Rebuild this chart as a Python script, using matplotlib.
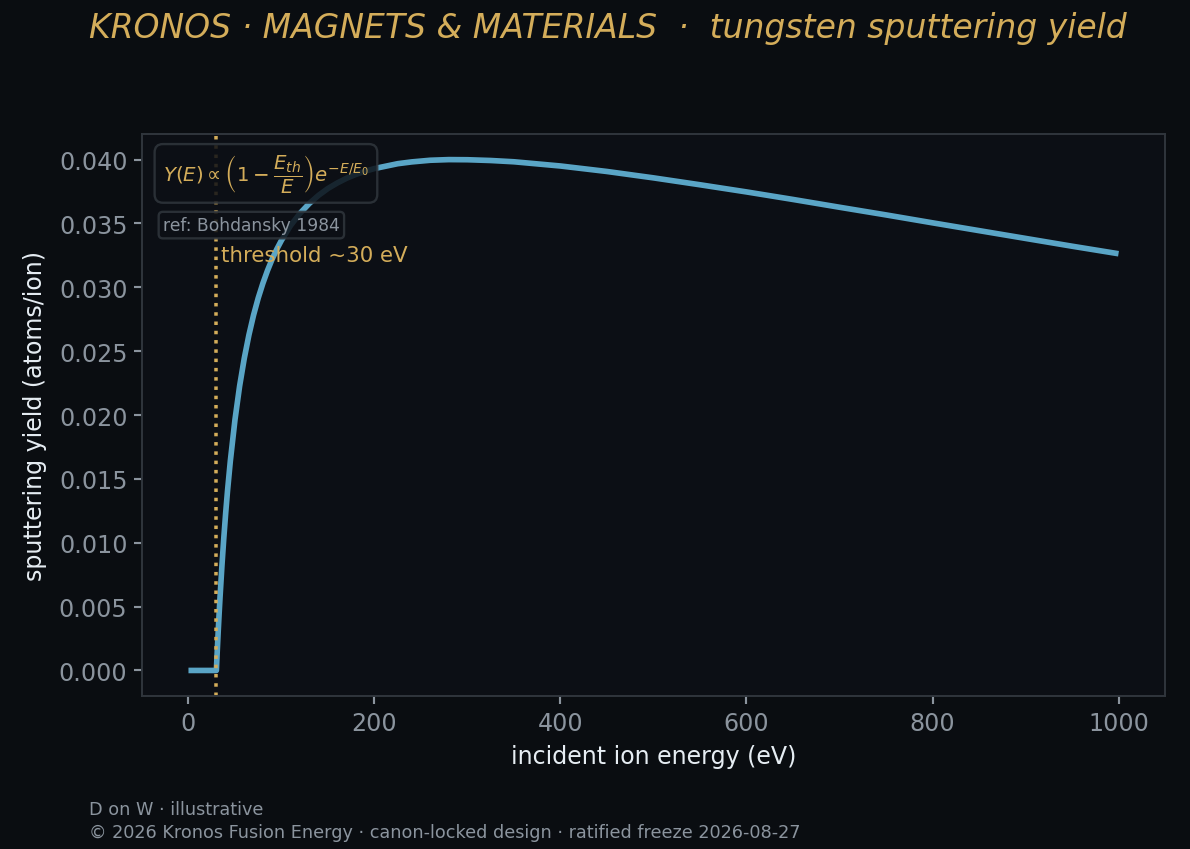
import matplotlib
matplotlib.use("Agg")
import matplotlib.pyplot as plt

# incident energy (eV) and sputtering yield (atoms/ion)
energy = [0, 10, 20, 25, 30, 31, 32, 33, 34, 36, 38, 40, 42, 45, 50, 55, 60,
          65, 70, 75, 80, 85, 90, 95, 100, 110, 120, 130, 140, 150, 160, 170,
          180, 190, 200, 225, 240, 260, 280, 300, 325, 350, 400, 450, 500,
          550, 600, 650, 700, 750, 800, 850, 900, 950, 1000]
yield_w = [0.0, 0.0, 0.0, 0.0, 0.0, 0.00160, 0.00309, 0.00449, 0.00581,
           0.00823, 0.01038, 0.01232, 0.01407, 0.01639, 0.01963, 0.02227,
           0.02444, 0.02627, 0.02783, 0.02916, 0.03031, 0.03132, 0.03221,
           0.03299, 0.03368, 0.03486, 0.03580, 0.03657, 0.03721, 0.03774,
           0.03817, 0.03854, 0.03884, 0.03909, 0.03930, 0.03968, 0.03982,
           0.03995, 0.04000, 0.03999, 0.03993, 0.03983, 0.03950, 0.03907,
           0.03857, 0.03803, 0.03747, 0.03688, 0.03627, 0.03567, 0.03505,
           0.03444, 0.03383, 0.03322, 0.03263]
threshold = 30

BG = "#0a0d11"
AX_BG = "#0c0f15"
GOLD = "#d4ad5a"
BLUE = "#5aa5c6"
GRID_C = "#30363d"
MUTED = "#8b949e"
LIGHT = "#e6edf3"

fig = plt.figure(figsize=(8.5, 6.0714), dpi=140, facecolor=BG)
ax = fig.add_axes([0.1193, 0.1800, 0.8597, 0.6611])
ax.set_facecolor(AX_BG)

ax.plot(energy, yield_w, color=BLUE, lw=2.9, solid_capstyle="butt")
ax.axvline(threshold, color=GOLD, ls=":", lw=1.8)
ax.text(threshold + 5, 0.0325, "threshold ~30 eV", color=GOLD, fontsize=11,
        va="center", ha="left")

ax.text(0.0205, 0.93, r"$Y(E) \propto \left(1-\dfrac{E_{th}}{E}\right)e^{-E/E_0}$",
        transform=ax.transAxes, color=GOLD, fontsize=10.2, va="center", ha="left",
        bbox=dict(boxstyle="round,pad=0.42", facecolor=AX_BG, alpha=0.85,
                  edgecolor=GRID_C, lw=1.2))
ax.text(0.0205, 0.838, "ref: Bohdansky 1984", transform=ax.transAxes,
        color=MUTED, fontsize=8.8, va="center", ha="left",
        bbox=dict(boxstyle="round,pad=0.25", facecolor=AX_BG, alpha=0.85,
                  edgecolor=GRID_C, lw=1.2))

ax.set_xlim(-50, 1050)
ax.set_ylim(-0.002, 0.042)
ax.set_yticks([0.0, 0.005, 0.010, 0.015, 0.020, 0.025, 0.030, 0.035, 0.040])
ax.set_yticklabels(["0.000", "0.005", "0.010", "0.015", "0.020", "0.025",
                    "0.030", "0.035", "0.040"])
ax.set_xticks([0, 200, 400, 600, 800, 1000])

for s in ax.spines.values():
    s.set_color(GRID_C)
    s.set_linewidth(1.0)
ax.tick_params(colors=MUTED, labelsize=12.2, length=4, width=1.1)

ax.set_xlabel("incident ion energy (eV)", color=LIGHT, fontsize=12.2, labelpad=5)
ax.set_ylabel("sputtering yield (atoms/ion)", color=LIGHT, fontsize=12.2, labelpad=6)

fig.text(0.511, 0.967, "KRONOS · MAGNETS & MATERIALS  ·  tungsten sputtering yield",
         color=GOLD, fontsize=17, style="italic", ha="center", va="center")
fig.text(0.075, 0.047, "D on W · illustrative", color=MUTED, fontsize=9.05,
         ha="left", va="center")
fig.text(0.075, 0.02, "© 2026 Kronos Fusion Energy · canon-locked design · ratified freeze 2026-08-27",
         color=MUTED, fontsize=9.05, ha="left", va="center")

fig.savefig("out.png", dpi=140, facecolor=BG)
